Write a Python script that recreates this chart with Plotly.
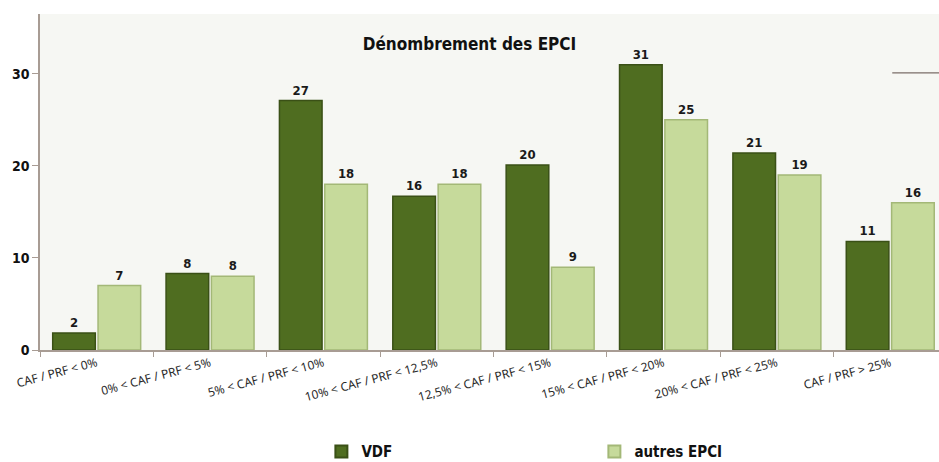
import plotly.graph_objects as go

categories = ["CAF / PRF < 0%", "0% < CAF / PRF < 5%", "5% < CAF / PRF < 10%",
              "10% < CAF / PRF < 12,5%", "12,5% < CAF / PRF < 15%", "15% < CAF / PRF < 20%",
              "20% < CAF / PRF < 25%", "CAF / PRF > 25%"]
vdf_values = [1.85, 8.3, 27.1, 16.7, 20.1, 31.0, 21.4, 11.8]
vdf_labels = ["2", "8", "27", "16", "20", "31", "21", "11"]
autres_values = [7.0, 8.0, 18.0, 18.0, 9.0, 25.0, 19.0, 16.0]
autres_labels = ["7", "8", "18", "18", "9", "25", "19", "16"]
y_ticks = [0, 10, 20, 30]

NARROW = "DejaVu Sans Condensed, Liberation Sans"
label_font = dict(family=NARROW, size=13, color="#1a1a1a")

fig = go.Figure()
fig.add_trace(go.Bar(
    x=categories, y=vdf_values, name="<b>VDF</b>",
    text=[f"<b>{t}</b>" for t in vdf_labels], textposition="outside", textfont=label_font,
    cliponaxis=False,
    marker=dict(color="#4f6d20", line=dict(color="#3a5016", width=1.5)),
))
fig.add_trace(go.Bar(
    x=categories, y=autres_values, name="<b>autres EPCI</b>",
    text=[f"<b>{t}</b>" for t in autres_labels], textposition="outside", textfont=label_font,
    cliponaxis=False,
    marker=dict(color="#c6da9b", line=dict(color="#a3b877", width=1.5)),
))

fig.update_layout(
    width=939, height=462,
    margin=dict(l=40, r=0, t=14, b=112, autoexpand=False),
    paper_bgcolor="white",
    plot_bgcolor="#f6f7f3",
    barmode="group", bargap=0.2, bargroupgap=0.06,
    title=dict(text="<b>Dénombrement des EPCI</b>", x=0.5, xanchor="center", y=0.905, yanchor="middle",
               font=dict(family=NARROW, size=17, color="#111")),
    showlegend=True,
    legend=dict(orientation="h", x=0.313, xanchor="left", y=-0.352, yanchor="bottom",
                entrywidth=228, entrywidthmode="pixels", itemsizing="constant",
                font=dict(family=NARROW, size=15, color="#111"),
                bgcolor="rgba(0,0,0,0)"),
    font=dict(family="Liberation Sans", color="#222"),
)
fig.update_xaxes(
    range=[-0.5, 7.43], showgrid=False, showline=True, linecolor="#a89c94", linewidth=1.5,
    ticks="outside", tickson="boundaries", ticklen=5, tickcolor="#a89c94",
    tickangle=-15, automargin=False,
    tickfont=dict(family="Noto Sans", size=12, color="#2a2a2a"),
)
fig.update_yaxes(
    range=[0, 36.5], showgrid=False, zeroline=False, showline=True, linecolor="#a89c94", linewidth=1.5,
    ticks="outside", ticklen=6, tickcolor="#a89c94", tickvals=y_ticks, automargin=False,
    ticktext=[f"<b>{v}</b>" for v in y_ticks],
    tickfont=dict(family=NARROW, size=14, color="#111"),
)
fig.add_shape(type="line", xref="paper", yref="y", x0=0.948, x1=1.0, y0=30.1, y1=30.1,
              line=dict(color="#7a6e68", width=1.2))

fig.write_html("out.html", config={"displayModeBar": False},
               post_script="document.body.style.margin='0';document.body.style.overflow='hidden';")
